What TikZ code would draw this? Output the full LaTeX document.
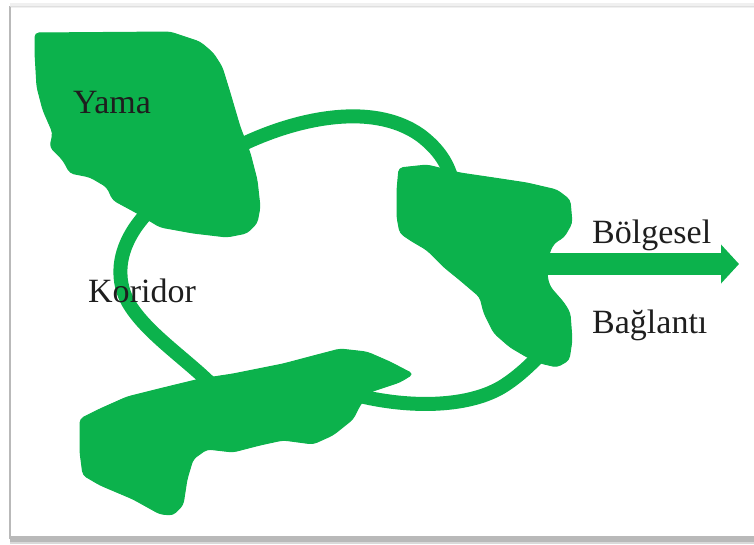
\documentclass[tikz,border=0pt]{standalone}
\usepackage{fontspec}
\setmainfont{Liberation Serif}
\usepackage{tikz}
\usetikzlibrary{
    positioning,
    arrows.meta,
    calc
}
\definecolor{PatchGreen}{RGB}{12,178,76}
\definecolor{FrameGray}{RGB}{185,185,185}
\definecolor{TextDark}{RGB}{30,30,30}

\begin{document}
\begin{tikzpicture}[
                    x=1pt, y=-1pt,
                    every node/.style={inner sep=0pt},
                    patch/.style={fill=PatchGreen, draw=PatchGreen, line width=1pt, rounded corners=4pt},
                    corridor/.style={draw=PatchGreen, line width=14pt},
                    lbl/.style={font=\fontsize{34}{40}\selectfont, text=TextDark, anchor=base west},
                ]
                  \useasboundingbox (0,0) rectangle (754,544);
                  \def\barY{264}

                  % Frame with shadow
                  \fill[gray!12] (10,3) rectangle (754,8);
                  \fill[gray!55] (10,536) rectangle (754,542);
                  \fill[gray!30] (10,542) rectangle (754,544);
                  \draw[FrameGray, line width=1.5pt] (10,6) -- (10,538) -- (754,538);
                  \draw[gray!25, line width=1pt] (10,6) -- (754,6);

                  % ---- Corridors (drawn below the patches) ----
                  \draw[corridor] (235,148) .. controls (290,120) and (370,100) .. (420,135)
                                  .. controls (440,150) and (448,165) .. (452,180);
                  \draw[corridor] (150,210) .. controls (122,238) and (112,272) .. (128,302)
                                  .. controls (145,332) and (185,358) .. (212,385);
                  \draw[corridor] (360,396) .. controls (410,408) and (470,408) .. (505,385)
                                  .. controls (520,375) and (530,365) .. (540,355);

                  % Regional connection
                  \draw[draw=PatchGreen, line width=22pt, -{Triangle[length=18pt,width=38pt]}]
                    (540,\barY) -- (739,\barY);

                  % ---- Patches ----
                  % Top-left patch
                  \path[patch] (35,33) -- (170,32) -- (200,42) -- (213,53) -- (222,67)
                    -- (230,93) -- (240,127) -- (250,153) -- (257,180) -- (260,207)
                    -- (257,223) -- (247,233) -- (227,237) -- (193,233) -- (160,227)
                    -- (137,213) -- (113,200) -- (107,187) -- (90,177) -- (70,173)
                    -- (63,160) -- (50,147) -- (53,133) -- (43,110) -- (37,87) -- (35,53) -- cycle;

                  % Right patch
                  \path[patch] (399,168) -- (427,165) -- (460,173) -- (494,178) -- (527,183)
                    -- (557,190) -- (570,200) -- (572,223) -- (564,237) -- (554,243)
                    -- (549,253) -- (547,277) -- (550,287) -- (564,303) -- (570,313)
                    -- (572,340) -- (569,360) -- (557,367) -- (540,363) -- (527,357)
                    -- (510,347) -- (494,333) -- (484,313) -- (480,297) -- (460,280)
                    -- (444,267) -- (427,250) -- (410,240) -- (400,233) -- (397,217)
                    -- (397,190) -- cycle;

                  % Bottom patch
                  \path[patch] (80,419) -- (100,409) -- (127,397) -- (167,387) -- (200,379)
                    -- (233,374) -- (283,364) -- (317,355) -- (340,349) -- (367,352)
                    -- (390,362) -- (413,374) -- (400,382) -- (370,392) -- (360,405)
                    -- (353,419) -- (333,435) -- (313,444) -- (283,440) -- (260,445)
                    -- (233,452) -- (207,449) -- (193,459) -- (187,479) -- (183,505)
                    -- (173,515) -- (160,514) -- (133,499) -- (100,485) -- (83,475)
                    -- (80,452) -- cycle;

                  % ---- Labels ----
                  \node[lbl] (yama) at (73,113) {Yama};
                  \node[lbl] (koridor) at (88,302) {Koridor};
                  \node[lbl] (bolgesel) at (592,243) {Bölgesel};
                  \node[lbl] (baglanti) at (592,333) {Bağlantı};
                \end{tikzpicture}
\end{document}
